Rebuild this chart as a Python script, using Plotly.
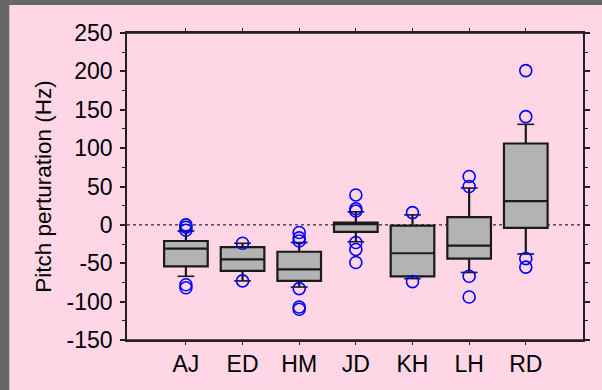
import plotly.graph_objects as go

categories = ["AJ", "ED", "HM", "JD", "KH", "LH", "RD"]
q1 = [-54, -60, -73, -9, -67, -44, -4]
median = [-31, -45, -58, 1, -37, -27, 31]
q3 = [-21, -29, -35, 3, -1, 10, 106]
lower_whisker = [-67, -73, -81, -22, -70, -62, -38]
upper_whisker = [-8, -24, -23, 17, 13, 48, 131]
outliers = {
    "AJ": [0, -3, -7, -78, -82],
    "ED": [-24, -73],
    "HM": [-10, -17, -21, -83, -107, -110],
    "JD": [39, 21, 18, -23, -32, -49],
    "KH": [16, -74],
    "LH": [63, 50, -67, -94],
    "RD": [201, 141, -44, -55],
}
y_ticks = [-150, -100, -50, 0, 50, 100, 150, 200, 250]
y_ticktext = ["-150", "-100", "-50", "0", "50", "100", "150", "200", "250"]

xpos = list(range(len(categories)))
fig = go.Figure()

L, R, T, B = 127, 14, 33, 50
W, H = 602 - L - R, 390 - T - B
def px_x(p):
    return (p - L) / W
def px_y(p):
    return (390 - B - p) / H

fig.add_shape(type="rect", xref="paper", yref="paper",
              x0=px_x(8), x1=px_x(640), y0=px_y(5), y1=px_y(420),
              fillcolor="#ffd6e6", line_width=0, layer="below")

fig.add_trace(go.Box(
    x=xpos, q1=q1, median=median, q3=q3,
    lowerfence=lower_whisker, upperfence=upper_whisker,
    fillcolor="#b3b3b3", line=dict(color="#1a1a1a", width=2.2),
    whiskerwidth=0, width=0.77, boxpoints=False, showlegend=False,
    hoverinfo="skip",
))

fig.add_trace(go.Scatter(
    x=xpos + xpos, y=lower_whisker + upper_whisker, mode="markers",
    marker=dict(symbol="line-ew", size=12, line=dict(color="#1a1a1a", width=1.6)),
    showlegend=False, hoverinfo="skip",
))

ox, oy = [], []
for i, c in enumerate(categories):
    for v in outliers[c]:
        ox.append(i)
        oy.append(v)
fig.add_trace(go.Scatter(
    x=ox, y=oy, mode="markers",
    marker=dict(symbol="circle-open", size=12, color="#0000ff", line=dict(color="#0000ff", width=1.6)),
    showlegend=False, hoverinfo="skip",
))

fig.add_shape(type="line", xref="paper", yref="y", x0=0, x1=1, y0=0, y1=0,
              line=dict(color="black", width=1, dash="dot"), layer="below")

for yy in (0, 1):
    fig.add_shape(type="line", xref="paper", yref="paper",
                  x0=px_x(121), x1=px_x(594), y0=yy, y1=yy,
                  line=dict(color="#231f20", width=1.5))

fig.update_layout(
    width=602, height=390,
    margin=dict(l=L, r=R, t=T, b=B),
    paper_bgcolor="#666666", plot_bgcolor="#ffd6e6",
    font=dict(family="Liberation Sans, Arial", size=23, color="black"),
)
fig.update_xaxes(
    range=[-1.04, 7.01], tickmode="array", tickvals=xpos, ticktext=categories,
    showgrid=False, zeroline=False, showline=True, linecolor="#231f20", linewidth=1.5,
    mirror="ticks", ticks="outside", ticklen=3, tickwidth=1, tickcolor="#231f20",
)
fig.update_yaxes(
    range=[-150, 250], tickmode="array", tickvals=y_ticks, ticktext=y_ticktext,
    ticklabelstandoff=3,
    title=dict(text="Pitch perturation (Hz)", standoff=9,
               font=dict(family="Liberation Sans, Arial", size=22.5, color="black")),
    showgrid=False, zeroline=False, showline=True, linecolor="#231f20", linewidth=1.5,
    mirror="ticks", ticks="outside", ticklen=5, tickwidth=1.5, tickcolor="#231f20",
    minor=dict(tickvals=list(range(-125, 250, 50)), ticks="outside", ticklen=3, tickwidth=1, tickcolor="#231f20"),
)

fig.write_html("out.html")
